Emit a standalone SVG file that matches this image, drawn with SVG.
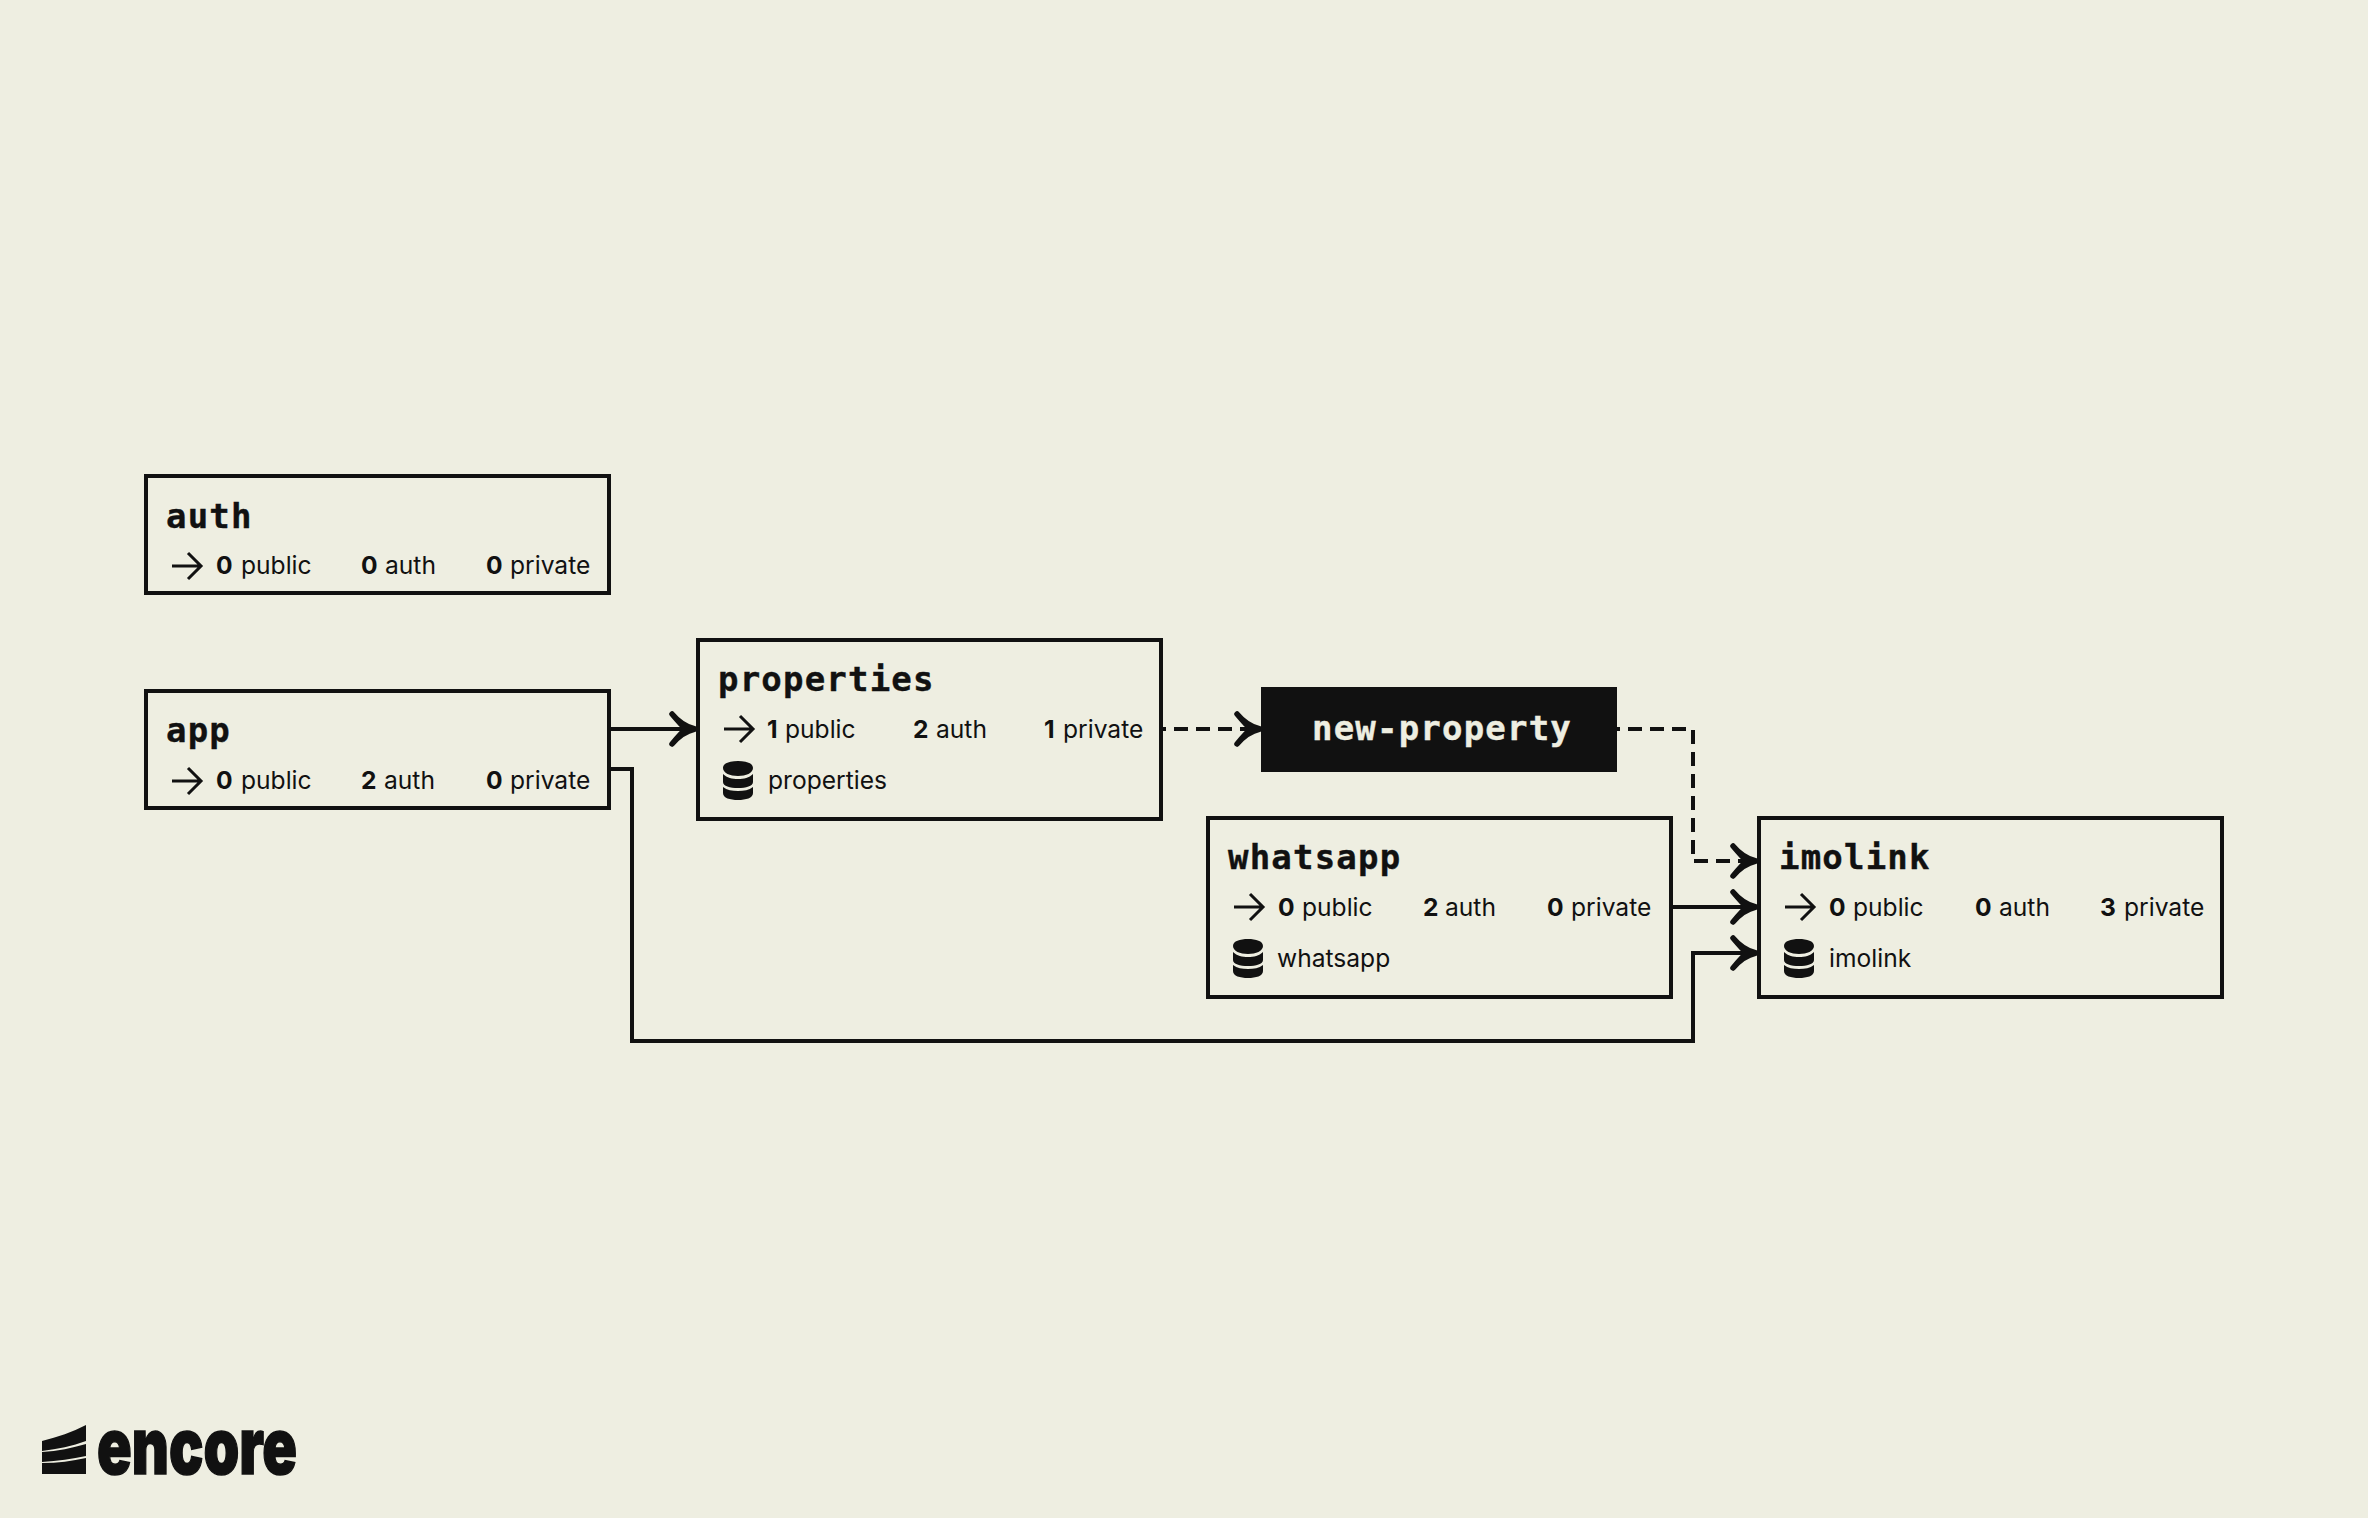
<svg xmlns="http://www.w3.org/2000/svg" width="2368" height="1518" viewBox="0 0 2368 1518">
<style>
.bg{fill:#eeeee1}
.box{fill:#eeeee1;stroke:#111;stroke-width:4}
.t{font:700 34px "DejaVu Sans Mono","Liberation Mono",monospace;letter-spacing:1.2px;fill:#111;stroke:#111;stroke-width:.4}
.b{font:400 24.6px Inter,"Liberation Sans",sans-serif;fill:#111}
.n{font-weight:700}
.c{fill:none;stroke:#111;stroke-width:4}
.d{stroke-dasharray:14 8;stroke-dashoffset:11}
.i{fill:none;stroke:#111;stroke-width:3}
.h{fill:#111;stroke:#111;stroke-width:5.5;stroke-linecap:round;stroke-linejoin:round}
</style>
<defs>
<g id="arr"><path class="i" d="M0 0H29M16-13L29 0L16 13"/></g>
<g id="db"><path fill="#111" d="M0 7C0 2 7 0 15 0S30 2 30 7S23 15 15 15S0 12 0 7ZM0 13C4 17 9 18 15 18S26 17 30 13V21C30 25 23 27 15 27S0 25 0 21ZM0 26C4 29 9 30 15 30S26 29 30 26V32C30 37 23 39 15 39S0 37 0 32Z"/></g>
<g id="head"><path class="h" d="M-24-15Q-14-3-1 0Q-14 3-24 15Q-14 3-10 0Q-14-3-24-15Z"/></g>
</defs>
<rect class="bg" width="2368" height="1518"/>
<g id="connectors">
<path class="c" d="M611 729H696"/>
<path class="c" d="M611 769H632V1041H1693V953H1757"/>
<path class="c" d="M1672 907H1757"/>
<path class="c d" d="M1163 729H1261"/>
<path class="c d" d="M1617 729H1693V861H1757"/>
<use href="#head" x="696" y="729"/>
<use href="#head" x="1261" y="729"/>
<use href="#head" x="1757" y="861"/>
<use href="#head" x="1757" y="907"/>
<use href="#head" x="1757" y="953"/>
</g>
<g id="node-auth">
<rect class="box" x="146" y="476" width="463" height="117"/>
<text class="t" x="166" y="528">auth</text>
<use href="#arr" x="172" y="566"/>
<text class="b" y="574"><tspan class="n" x="216">0</tspan><tspan x="241">public</tspan><tspan class="n" x="361">0</tspan><tspan x="385">auth</tspan><tspan class="n" x="486">0</tspan><tspan x="510">private</tspan></text>
</g>
<g id="node-app">
<rect class="box" x="146" y="691" width="463" height="117"/>
<text class="t" x="166" y="742">app</text>
<use href="#arr" x="172" y="781"/>
<text class="b" y="789"><tspan class="n" x="216">0</tspan><tspan x="241">public</tspan><tspan class="n" x="361">2</tspan><tspan x="384">auth</tspan><tspan class="n" x="486">0</tspan><tspan x="510">private</tspan></text>
</g>
<g id="node-properties">
<rect class="box" x="698" y="640" width="463" height="179"/>
<text class="t" x="718" y="691">properties</text>
<use href="#arr" x="724" y="729"/>
<text class="b" y="738"><tspan class="n" x="767">1</tspan><tspan x="785">public</tspan><tspan class="n" x="913">2</tspan><tspan x="936">auth</tspan><tspan class="n" x="1044">1</tspan><tspan x="1063">private</tspan></text>
<use href="#db" x="723" y="761"/>
<text class="b" x="768" y="789">properties</text>
</g>
<g id="node-new-property">
<rect x="1261" y="687" width="356" height="85" fill="#111"/>
<text class="t" x="1312" y="740" style="fill:#eeeee1;stroke:#eeeee1">new-property</text>
</g>
<g id="node-whatsapp">
<rect class="box" x="1208" y="818" width="463" height="179"/>
<text class="t" x="1228" y="869">whatsapp</text>
<use href="#arr" x="1234" y="907"/>
<text class="b" y="916"><tspan class="n" x="1278">0</tspan><tspan x="1302">public</tspan><tspan class="n" x="1423">2</tspan><tspan x="1445">auth</tspan><tspan class="n" x="1547">0</tspan><tspan x="1571">private</tspan></text>
<use href="#db" x="1233" y="939"/>
<text class="b" x="1277" y="967">whatsapp</text>
</g>
<g id="node-imolink">
<rect class="box" x="1759" y="818" width="463" height="179"/>
<text class="t" x="1779" y="869">imolink</text>
<use href="#arr" x="1785" y="907"/>
<text class="b" y="916"><tspan class="n" x="1829">0</tspan><tspan x="1853">public</tspan><tspan class="n" x="1975">0</tspan><tspan x="1999">auth</tspan><tspan class="n" x="2100">3</tspan><tspan x="2124">private</tspan></text>
<use href="#db" x="1784" y="939"/>
<text class="b" x="1829" y="967">imolink</text>
</g>
<g id="logo">
<path fill="#111" d="M42 1441C58 1437 72 1432 86 1425V1441C72 1446 58 1449 42 1451ZM42 1452C58 1451 72 1448 86 1444V1456C72 1459 58 1461 42 1462ZM42 1463C58 1463 72 1461 86 1458V1474H42Z"/>
<text x="97" y="1474" textLength="200" lengthAdjust="spacingAndGlyphs" style="font:900 78px Inter,'Liberation Sans',sans-serif;fill:#111;stroke:#111;stroke-width:1.5">encore</text>
</g>
</svg>
